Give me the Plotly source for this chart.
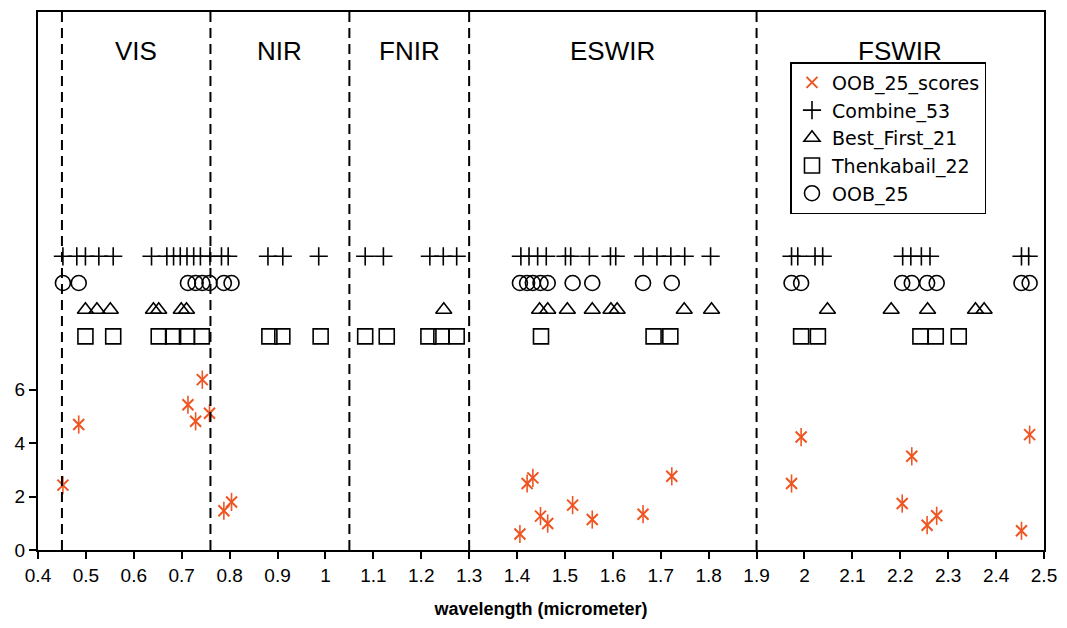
import plotly.graph_objects as go

# ---- data ----
oob_wl = [0.452, 0.485, 0.713, 0.729, 0.743, 0.758, 0.788, 0.804,
          1.406, 1.421, 1.433, 1.449, 1.464, 1.516, 1.557, 1.663, 1.723,
          1.973, 1.993, 2.204, 2.224, 2.256, 2.276, 2.453, 2.470]
oob_scores = [2.43, 4.70, 5.44, 4.82, 6.38, 5.12, 1.47, 1.80,
              0.60, 2.49, 2.70, 1.27, 0.99, 1.68, 1.14, 1.34, 2.76,
              2.49, 4.23, 1.74, 3.51, 0.93, 1.28, 0.72, 4.32]

combine_wl = [0.452, 0.481, 0.499, 0.527, 0.557, 0.637,
              0.669, 0.683, 0.697, 0.711, 0.725, 0.739, 0.759, 0.783, 0.797,
              0.880, 0.911, 0.986,
              1.083, 1.121, 1.218, 1.246, 1.274,
              1.408, 1.425, 1.443, 1.461, 1.501, 1.512, 1.551, 1.595, 1.606,
              1.663, 1.692, 1.721, 1.750, 1.804,
              1.973, 1.986, 2.022, 2.038, 2.205, 2.222, 2.244, 2.262, 2.453, 2.468]

best_first_wl = [0.499, 0.523, 0.551, 0.641, 0.652, 0.699, 0.710,
                 1.247,
                 1.447, 1.464, 1.505, 1.557, 1.596, 1.609, 1.749, 1.806,
                 2.048, 2.181, 2.257, 2.357, 2.375]

thenkabail_wl = [0.499, 0.557, 0.652, 0.682, 0.711, 0.742,
                 0.883, 0.910, 0.990,
                 1.083, 1.128, 1.215, 1.242, 1.274,
                 1.450, 1.685, 1.720,
                 1.993, 2.028, 2.242, 2.274, 2.322]

row_combine = 11
row_oob = 10
row_best = 9
row_thenk = 8

region_bounds = [0.45, 0.76, 1.05, 1.3, 1.9]
region_names = ["VIS", "NIR", "FNIR", "ESWIR", "FSWIR"]
region_edges = [0.45, 0.76, 1.05, 1.3, 1.9, 2.5]

x_ticks = [0.4, 0.5, 0.6, 0.7, 0.8, 0.9, 1.0, 1.1, 1.2, 1.3, 1.4, 1.5, 1.6, 1.7,
           1.8, 1.9, 2.0, 2.1, 2.2, 2.3, 2.4, 2.5]
x_tick_text = ["0.4", "0.5", "0.6", "0.7", "0.8", "0.9", "1", "1.1", "1.2", "1.3", "1.4",
               "1.5", "1.6", "1.7", "1.8", "1.9", "2", "2.1", "2.2", "2.3", "2.4", "2.5"]
y_ticks = [0, 2, 4, 6]

FONT = "Liberation Sans, Arial, sans-serif"
LEGFONT = "DejaVu Sans, Liberation Sans, sans-serif"
ORANGE = "#EE5522"

fig = go.Figure()

fig.add_trace(go.Scatter(
    x=oob_wl, y=oob_scores, mode="markers", name="OOB_25_scores",
    marker=dict(symbol="x-thin-open", size=11, color=ORANGE,
                line=dict(color=ORANGE, width=2))))
fig.add_trace(go.Scatter(
    x=oob_wl, y=oob_scores, mode="markers", showlegend=False, hoverinfo="skip",
    marker=dict(symbol="line-ns-open", size=13, color=ORANGE,
                line=dict(color=ORANGE, width=1.6))))
fig.add_trace(go.Scatter(
    x=combine_wl, y=[row_combine] * len(combine_wl), mode="markers", name="Combine_53",
    marker=dict(symbol="cross-thin-open", size=13, color="black",
                line=dict(color="black", width=1.6))))
fig.add_trace(go.Scatter(
    x=best_first_wl, y=[row_best] * len(best_first_wl), mode="markers", name="Best_First_21",
    marker=dict(symbol="triangle-up-open", size=14, color="black",
                line=dict(color="black", width=1.6))))
fig.add_trace(go.Scatter(
    x=thenkabail_wl, y=[row_thenk] * len(thenkabail_wl), mode="markers", name="Thenkabail_22",
    marker=dict(symbol="square-open", size=15, color="black",
                line=dict(color="black", width=1.6))))
fig.add_trace(go.Scatter(
    x=oob_wl, y=[row_oob] * len(oob_wl), mode="markers", name="OOB_25",
    marker=dict(symbol="circle-open", size=15, color="black",
                line=dict(color="black", width=1.6))))

for b in region_bounds:
    fig.add_shape(type="line", x0=b, x1=b, y0=0, y1=1, xref="x", yref="paper",
                  line=dict(color="black", width=2, dash="10px,6px"), layer="above")

for i, name in enumerate(region_names):
    fig.add_annotation(x=(region_edges[i] + region_edges[i + 1]) / 2, y=0.96,
                       xref="x", yref="paper", text=name, showarrow=False,
                       font=dict(family=FONT, size=26, color="black"))

fig.update_layout(
    width=1067, height=628,
    margin=dict(l=38, r=20, t=10, b=78),
    paper_bgcolor="white", plot_bgcolor="white",
    font=dict(family=FONT, size=19, color="black"),
    showlegend=True,
    legend=dict(x=0.748, y=0.907, xanchor="left", yanchor="top",
                bordercolor="black", borderwidth=1.5, bgcolor="white",
                font=dict(family=LEGFONT, size=19, color="black"),
                itemwidth=30, tracegroupgap=0),
    xaxis=dict(range=[0.4, 2.5], tickvals=x_ticks, ticktext=x_tick_text,
               showgrid=False, zeroline=False, showline=True, linecolor="black",
               linewidth=2, mirror=True, ticks="outside", ticklen=7, tickwidth=1.5,
               tickcolor="black",
               title=dict(text="<b>wavelength (micrometer)</b>", standoff=18,
                          font=dict(family=FONT, size=18))),
    yaxis=dict(range=[0, 20.15], tickvals=y_ticks, showgrid=False, zeroline=False,
               showline=True, linecolor="black", linewidth=2, mirror=True,
               ticks="outside", ticklen=7, tickwidth=1.5, tickcolor="black"),
)

fig.write_html("out.html")
